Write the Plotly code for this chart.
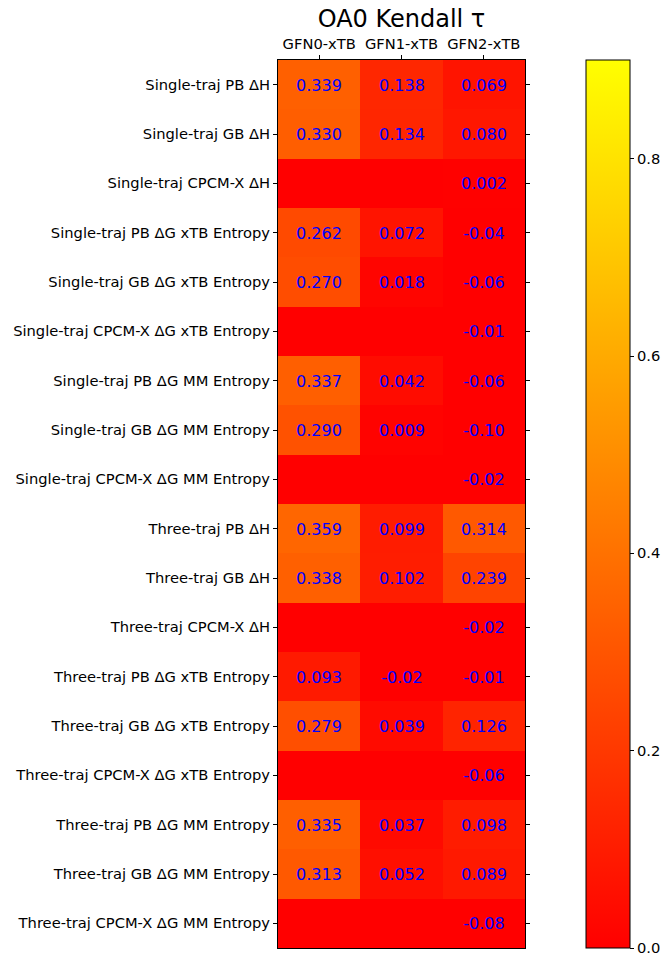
import plotly.graph_objects as go

methods = ["GFN0-xTB", "GFN1-xTB", "GFN2-xTB"]
rows = [
    "Single-traj PB ΔH",
    "Single-traj GB ΔH",
    "Single-traj CPCM-X ΔH",
    "Single-traj PB ΔG xTB Entropy",
    "Single-traj GB ΔG xTB Entropy",
    "Single-traj CPCM-X ΔG xTB Entropy",
    "Single-traj PB ΔG MM Entropy",
    "Single-traj GB ΔG MM Entropy",
    "Single-traj CPCM-X ΔG MM Entropy",
    "Three-traj PB ΔH",
    "Three-traj GB ΔH",
    "Three-traj CPCM-X ΔH",
    "Three-traj PB ΔG xTB Entropy",
    "Three-traj GB ΔG xTB Entropy",
    "Three-traj CPCM-X ΔG xTB Entropy",
    "Three-traj PB ΔG MM Entropy",
    "Three-traj GB ΔG MM Entropy",
    "Three-traj CPCM-X ΔG MM Entropy",
]
gfn0 = [0.339, 0.330, None, 0.262, 0.270, None, 0.337, 0.290, None,
        0.359, 0.338, None, 0.093, 0.279, None, 0.335, 0.313, None]
gfn1 = [0.138, 0.134, None, 0.072, 0.018, None, 0.042, 0.009, None,
        0.099, 0.102, None, -0.02, 0.039, None, 0.037, 0.052, None]
gfn2 = [0.069, 0.080, 0.002, -0.04, -0.06, -0.01, -0.06, -0.10, -0.02,
        0.314, 0.239, -0.02, -0.01, 0.126, -0.06, 0.098, 0.089, -0.08]

cols = [gfn0, gfn1, gfn2]
z = [[cols[j][i] for j in range(3)] for i in range(len(rows))]


def fmt(v):
    if v is None:
        return ""
    return f"{v:.3f}" if v >= 0 else f"{v:.2f}"


text = [[fmt(v) for v in r] for r in z]

W, H = 667, 958
L, R, T, B = 278, 525, 60, 948
FS = 14.7

fig = go.Figure(go.Heatmap(
    z=z, x=methods, y=rows, text=text, texttemplate="%{text}",
    textfont=dict(color="#0000ff", size=16, family="DejaVu Sans"),
    colorscale=[[0, "#ff0000"], [1, "#ffff00"]], zmin=0, zmax=0.9,
    xgap=0, ygap=0, hoverongaps=False,
    colorbar=dict(
        x=(586 - L) / (R - L), xanchor="left", xref="paper",
        y=0.5, yanchor="middle", yref="paper",
        lenmode="fraction", len=1, xpad=0, ypad=0,
        thicknessmode="pixels", thickness=44,
        outlinewidth=1, outlinecolor="black",
        tick0=0, dtick=0.2, tickformat=".1f",
        ticks="outside", ticklen=4, tickcolor="black",
        tickfont=dict(size=FS, family="DejaVu Sans", color="black"),
    ),
))

fig.update_layout(
    width=W, height=H,
    margin=dict(l=L, r=W - R, t=T, b=H - B, pad=0, autoexpand=False),
    paper_bgcolor="white", plot_bgcolor="#ff0000",
    font=dict(family="DejaVu Sans", color="black"),
    title=dict(text="OA0 Kendall τ", x=0.5, xref="paper", xanchor="center",
               y=1 - 19 / H, yref="container", yanchor="middle",
               font=dict(size=24, family="DejaVu Sans", color="black")),
    xaxis=dict(side="top", ticks="outside", ticklen=4, tickcolor="black",
               showline=True, linecolor="black", linewidth=1, mirror=True,
               tickfont=dict(size=FS), showgrid=False, zeroline=False),
    yaxis=dict(autorange="reversed", ticks="outside", ticklen=4, tickcolor="black",
               showline=True, linecolor="black", linewidth=1, mirror="ticks",
               tickfont=dict(size=FS), showgrid=False, zeroline=False),
)

fig.write_html("out.html")
